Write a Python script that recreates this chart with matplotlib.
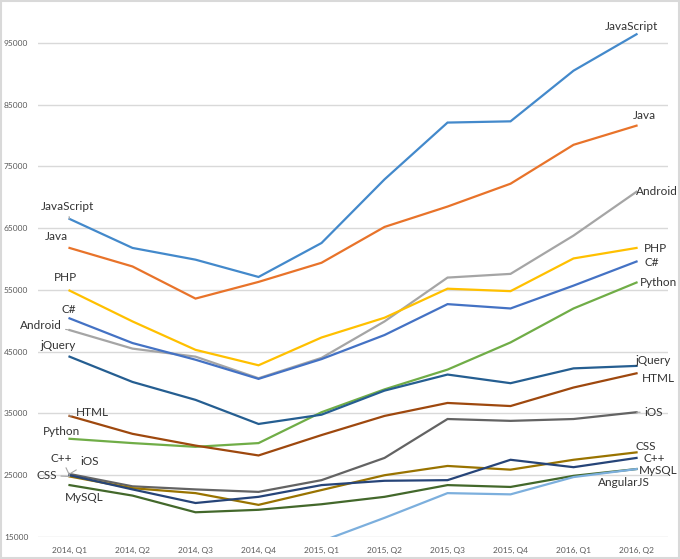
import numpy as np
import matplotlib.pyplot as plt

quarters = ['2014, Q1', '2014, Q2', '2014, Q3', '2014, Q4', '2015, Q1',
            '2015, Q2', '2015, Q3', '2015, Q4', '2016, Q1', '2016, Q2']
nan = np.nan

javascript = [66500, 61800, 59900, 57100, 62600, 72900, 82100, 82300, 90500, 96400]
java       = [61800, 58800, 53600, 56300, 59400, 65200, 68500, 72200, 78500, 81600]
android    = [48500, 45500, 44200, 40700, 44000, 49900, 57000, 57600, 63800, 70900]
php        = [54900, 49900, 45300, 42800, 47300, 50500, 55200, 54800, 60100, 61800]
csharp     = [50400, 46400, 43700, 40600, 43800, 47700, 52700, 52000, 55700, 59600]
python     = [30900, 30200, 29600, 30200, 35200, 38900, 42100, 46500, 52000, 56200]
jquery     = [44200, 40100, 37200, 33300, 34800, 38700, 41300, 39900, 42300, 42700]
html       = [34600, 31700, 29800, 28200, 31500, 34600, 36700, 36200, 39200, 41500]
ios        = [25200, 23200, 22700, 22300, 24200, 27800, 34100, 33800, 34100, 35200]
css        = [24800, 22900, 22100, 20200, 22600, 25000, 26500, 25900, 27500, 28700]
cpp        = [25000, 22700, 20500, 21500, 23400, 24100, 24200, 27500, 26300, 27800]
mysql      = [23400, 21700, 19000, 19400, 20300, 21500, 23400, 23100, 24900, 26000]
angularjs  = [nan, nan, nan, nan, 14300, 18100, 22100, 21900, 24700, 26000]

series = [
    ('JavaScript', javascript, '#4389CB'),
    ('Java', java, '#E8732A'),
    ('Android', android, '#A5A5A5'),
    ('PHP', php, '#FFC000'),
    ('C#', csharp, '#4472C4'),
    ('Python', python, '#70AD47'),
    ('jQuery', jquery, '#255E91'),
    ('HTML', html, '#9E480E'),
    ('iOS', ios, '#636363'),
    ('CSS', css, '#997300'),
    ('C++', cpp, '#264478'),
    ('MySQL', mysql, '#43682B'),
    ('AngularJS', angularjs, '#7CAFDD'),
]

# label offsets in pixels: (dx, dy, leader line?)
left_off = {
    'JavaScript': (-2, 12, True), 'Java': (-13, 11, False), 'PHP': (-4, 13, False),
    'C#': (-1, 9, False), 'Android': (-29, 5, True), 'jQuery': (-11, 11, False),
    'HTML': (23, 3, True), 'Python': (-8, 7, False), 'C++': (-8, 17, True),
    'iOS': (20, 12, True), 'CSS': (-23, 1, True), 'MySQL': (15, -12, False),
}
right_off = {
    'JavaScript': (-5, 8, False), 'Java': (8, 10, False), 'Android': (20, 0, False),
    'PHP': (19, -1, False), 'C#': (15, -1, False), 'Python': (22, 0, False),
    'jQuery': (17, 5, False), 'HTML': (22, -5, False), 'iOS': (17, 0, True),
    'CSS': (9, 6, False), 'C++': (18, -1, False), 'MySQL': (22, -1, False),
    'AngularJS': (-13, -13, False),
}

plt.rcParams['font.family'] = ['Lato', 'DejaVu Sans']

fig = plt.figure(figsize=(6.8, 5.59), dpi=100)
ax = fig.add_axes([0.0559, 0.0394, 0.9265, 0.9391])
x = np.arange(len(quarters))

for name, vals, col in series:
    ax.plot(x, vals, color=col, lw=1.6, solid_joinstyle='miter', zorder=3)

def label(name, xi, yi, off):
    dx, dy, lead = off
    ap = dict(arrowstyle='-', color='#A6A6A6', lw=0.8, shrinkA=1, shrinkB=0) if lead else None
    ax.annotate(name, (xi, yi), xytext=(dx, dy), textcoords='offset pixels',
                ha='center', va='center', fontsize=8.5, color='#333333',
                arrowprops=ap, zorder=4)

for name, vals, col in series:
    if name in left_off:
        label(name, 0, vals[0], left_off[name])
    label(name, 9, vals[-1], right_off[name])

ax.set_xlim(-0.5, 9.5)
ax.set_ylim(15000, 100000)
ax.set_yticks(np.arange(15000, 100000, 10000))
ax.set_xticks(x)
ax.set_xticklabels(quarters)
ax.tick_params(axis='both', length=0, labelsize=6, labelcolor='#595959')
ax.tick_params(axis='y', pad=7)
ax.tick_params(axis='x', pad=7)
ax.grid(axis='y', color='#D9D9D9', lw=1)
ax.set_axisbelow(True)
for s in ax.spines.values():
    s.set_visible(False)

fig.patches.append(plt.Rectangle((0.002, 0.002), 0.996, 0.996, transform=fig.transFigure,
                                 fill=False, edgecolor='#D9D9D9', lw=1.5))

fig.savefig('out.png', dpi=100)
